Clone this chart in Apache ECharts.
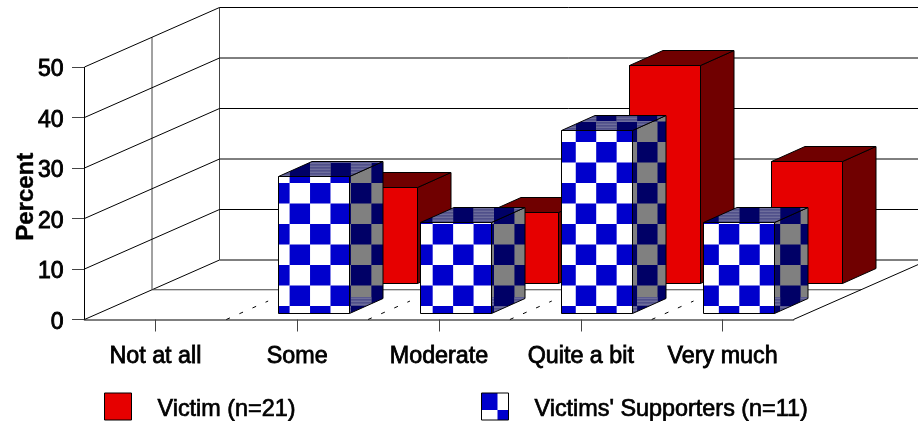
<!DOCTYPE html>
<html><head><meta charset="utf-8">
<style>html,body{margin:0;padding:0;background:#fff}#c{width:918px;height:421px}</style>
<script src="https://cdn.jsdelivr.net/npm/echarts@6/dist/echarts.min.js"></script>
</head><body><div id="c"></div>
<script>
const categories = ['Not at all','Some','Moderate','Quite a bit','Very much'];
const victim = [0,19,14,43,24];
const supporters = [0,27,18,36.1,18];
const yTicks = [0,10,20,30,40,50];
const victimName = 'Victim (n=21)';
const supporterName = "Victims' Supporters (n=11)";

const DEPTH = {dx:135, dy:-59.5};
const BAR = {w:71, dx:33.5, dy:-15};
const ROW = {victim:{dx:83.95, dy:-37}, supporter:{dx:16.15, dy:-7}};
const COL = {red:'#e60000', darkRed:'#700000', blue:'#0000cc', navy:'#000066', gray:'#808080'};

function texture(a, b, slate) {
  const cv = document.createElement('canvas'); cv.width = 918; cv.height = 421;
  const g = cv.getContext('2d');
  const px = 20.44, py = 20.5, x0 = 289.6 - 14 * px, y0 = 183 - 8 * py;
  g.fillStyle = b; g.fillRect(0,0,918,421);
  g.fillStyle = a;
  for (let i = 0; i < 46; i++) for (let j = 0; j < 22; j++)
    if ((i + j) % 2 === 1) g.fillRect(x0 + i * px, y0 + j * py, px, py);
  if (slate) {
    for (let i = 0; i < 46; i++) for (let j = 0; j < 22; j++)
      if ((i + j) % 2 === 0) {
        const top = Math.max(y0 + j * py, slate[0]), bot = Math.min(y0 + (j + 1) * py, slate[1]);
        for (let y = Math.floor(top); y < bot; y++) {
          g.fillStyle = y % 3 === 0 ? '#5a5a90' : (y % 3 === 1 ? '#6e6e9c' : '#50508a');
          g.fillRect(x0 + i * px, y, px, 1);
        }
      }
  }
  return {image: cv, repeat: 'repeat'};
}
const frontFill = texture(COL.blue, '#ffffff');
const sideFill = texture(COL.navy, COL.gray, [297, 421]);
const topFill = texture(COL.navy, COL.gray, [0, 421]);
function legendTile() {
  const cv = document.createElement('canvas'); cv.width = 27; cv.height = 27;
  const g = cv.getContext('2d');
  g.fillStyle = '#fff'; g.fillRect(0,0,27,27);
  g.fillStyle = COL.blue; g.fillRect(0,0,16,17); g.fillRect(16,17,11,10);
  return {image: cv, repeat: 'no-repeat'};
}
const r = v => Math.round(v) + 0.5;
function poly(points, fill, stroke) {
  return {type:'polygon', shape:{points}, style:{fill, stroke: stroke || '#000', lineWidth:1}};
}
function line(x1,y1,x2,y2,dash,stroke) {
  return {type:'line', shape:{x1,y1,x2,y2}, style:{stroke: stroke || '#000', lineWidth:1, lineDash: dash || null, fill:null}};
}
function barRender(row, front, side, top) {
  return function (params, api) {
    const v = api.value(1);
    if (!v) return null;
    const i = api.value(0);
    const base = api.coord([i, 0]), head = api.coord([i, v]);
    const xl = r(base[0] - BAR.w / 2 + row.dx), xr = r(base[0] + BAR.w / 2 + row.dx);
    const yb = r(base[1] + row.dy), yt = r(head[1] + row.dy);
    const dx = BAR.dx, dy = BAR.dy;
    return {type:'group', children:[
      poly([[xr,yb],[xr+dx,yb+dy],[xr+dx,yt+dy],[xr,yt]], side),
      poly([[xl,yt],[xr,yt],[xr+dx,yt+dy],[xl+dx,yt+dy]], top),
      poly([[xl,yb],[xr,yb],[xr,yt],[xl,yt]], front)
    ]};
  };
}
function wallRender(params, api) {
  const cs = params.coordSys, v = api.value(0);
  const y = api.coord([0, v])[1], x = cs.x;
  const els = [
    line(x, y, x + DEPTH.dx, y + DEPTH.dy),
    line(x + DEPTH.dx, y + DEPTH.dy, 918, y + DEPTH.dy)
  ];
  if (params.dataIndex === 0) {
    const topY = cs.y, midX = x + DEPTH.dx / 2, midDy = DEPTH.dy / 2;
    els.push(line(x, y, x, topY));
    els.push(line(midX, y + midDy, midX, topY + midDy, null, '#444'));
    els.push(line(x + DEPTH.dx, y + DEPTH.dy, x + DEPTH.dx, topY + DEPTH.dy, null, '#444'));
    els.push(line(midX, y + midDy, x + cs.width + DEPTH.dx / 2, y + midDy, null, '#444'));
    els.push(line(x + cs.width, y, x + cs.width + DEPTH.dx, y + DEPTH.dy));
    const band = cs.width / categories.length;
    for (let k = 1; k < categories.length; k++) {
      const bx = x + k * band;
      els.push(line(bx, y, bx + DEPTH.dx * 0.31, y + DEPTH.dy * 0.31, [4, 10.3]));
    }
  }
  return {type:'group', children:els};
}
const chart = echarts.init(document.getElementById('c'), null, {renderer:'canvas'});
const fontF = '"Liberation Sans", Arial, sans-serif';
const legendRun = {color:'#000', fontSize:23.4, lineHeight:20, fontFamily:fontF, padding:[6,0,0,21], textBorderColor:'#000', textBorderWidth:0.7};
const legendText = {color:'#000', fontSize:23.4, fontFamily:fontF, rich:{a:legendRun}};
chart.setOption({
  animation:false,
  backgroundColor:'#fff',
  grid:{left:84.5, right:124.5, top:67, bottom:101.5, containLabel:false, outerBoundsMode:'none'},
  xAxis:{type:'category', data:categories, boundaryGap:true,
    axisLine:{show:true, lineStyle:{color:'#555', width:1.5}},
    axisTick:{show:true, alignWithLabel:true, length:12, lineStyle:{color:'#444'}},
    splitLine:{show:false},
    axisLabel:{margin:26, color:'#000', fontSize:23.3, fontFamily:fontF, interval:0, textBorderColor:'#000', textBorderWidth:0.8}
  },
  yAxis:{type:'value', min:0, max:50, interval:10,
    name:'Percent', nameLocation:'middle', nameGap:46, nameRotate:90, nameMoveOverlap:false,
    nameTextStyle:{color:'#000', fontSize:24, fontWeight:'bold', fontFamily:fontF, padding:[0,7,0,0], textBorderColor:'#000', textBorderWidth:0.4},
    axisLine:{show:false},
    axisTick:{show:true, length:12.5, lineStyle:{color:'#444'}},
    splitLine:{show:false},
    axisLabel:{margin:21, color:'#000', fontSize:23, fontFamily:fontF, verticalAlign:'top', lineHeight:6, textBorderColor:'#000', textBorderWidth:0.9}
  },
  legend:[
    {show:true, left:104, top:392, padding:0, itemWidth:27, itemHeight:27, selectedMode:false,
     formatter:'{a|{name}}', textStyle:legendText,
     data:[{name:victimName, icon:'rect', itemStyle:{color:COL.red, borderColor:'#000', borderWidth:1}}]},
    {show:true, left:481, top:392, padding:0, itemWidth:27, itemHeight:27, selectedMode:false,
     formatter:'{a|{name}}', textStyle:legendText,
     data:[{name:supporterName, icon:'rect', itemStyle:{color:legendTile(), borderColor:'#000', borderWidth:1}}]}
  ],
  series:[
    {type:'custom', z:1, silent:true, coordinateSystem:'cartesian2d', encode:{y:0}, data:yTicks.map(v=>[v]), renderItem:wallRender, clip:false},
    {type:'custom', name:victimName, z:2, coordinateSystem:'cartesian2d', encode:{x:0,y:1},
     itemStyle:{color:COL.red},
     data:victim.map((v,i)=>[i,v]), renderItem:barRender(ROW.victim, COL.red, COL.darkRed, COL.darkRed), clip:false},
    {type:'custom', name:supporterName, z:3, coordinateSystem:'cartesian2d', encode:{x:0,y:1},
     itemStyle:{color:COL.blue},
     data:supporters.map((v,i)=>[i,v]), renderItem:barRender(ROW.supporter, frontFill, sideFill, topFill), clip:false}
  ]
});
</script></body></html>
